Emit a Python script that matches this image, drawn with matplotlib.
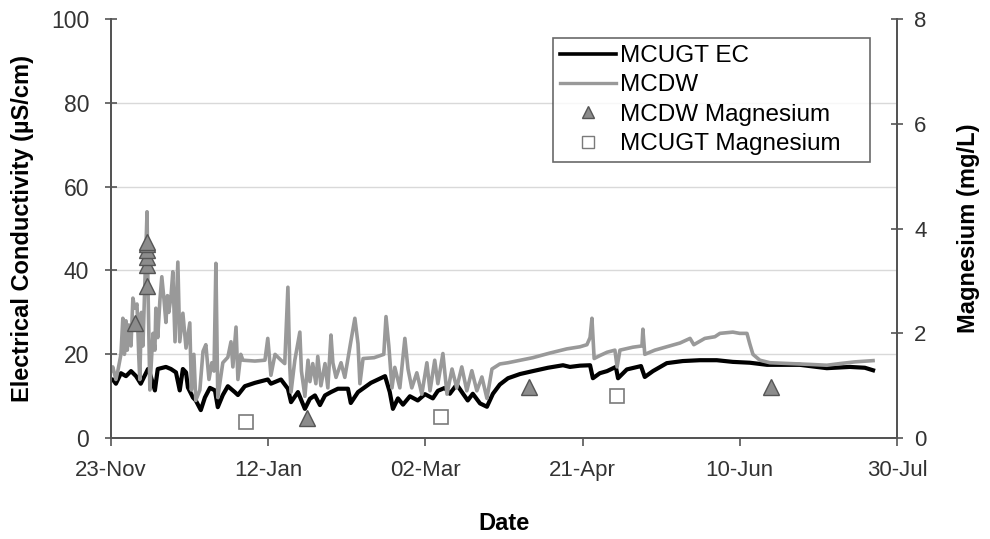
import matplotlib
matplotlib.use('Agg')
import matplotlib.pyplot as plt
from matplotlib.lines import Line2D
import pandas as pd

plt.rcParams['font.family'] = ['Liberation Sans', 'DejaVu Sans']

# Dias desde el 23-Nov (2007) y valores
start = pd.Timestamp('2007-11-23')

ugt_days = [0, 0.6, 1.6, 3.2, 4.8, 6.4, 8, 9.5, 11.8, 12.4, 14, 14.9, 17.5, 19.1, 20.7, 21.9,
            22.9, 23.9, 24.5, 26.1, 27, 28.6, 29.9, 31.5, 33.1, 34, 35.6, 37.2, 39.4, 40.4, 42.6,
            45.8, 49.9, 50.9, 54.1, 56.3, 57.3, 59.5, 61.7, 63.3, 64.9, 66.5, 68.1, 70, 72.2,
            75.4, 76.3, 78.6, 82.7, 87.2, 88.7, 89.7,
            91.3, 92.9, 95.1, 97.6, 99.9, 102.4, 104, 106.2, 107.8, 110, 112, 113.5, 115.1, 117.4,
            119.6, 121.5, 123.7, 126.3, 130.1, 134.2, 139, 143.8, 146, 149.2, 152.4, 153.3, 155.5,
            157.8, 160.6, 161.3, 164.1, 168.6, 169.8, 172.4, 176.8, 181.9, 187.3, 192.7, 197.8,
            203.2, 208.7, 219.1, 227.7, 235, 239.8, 242.4]
ugt_ec = [14, 14, 13, 15.5, 14.8, 16, 14.8, 13, 16.5, 15.5, 11.4, 16.5, 17, 16.5, 15.7, 11.4,
          16.5, 15.7, 12.1, 9.7, 9, 6.7, 9.7, 12, 11.4, 7.4, 10.3, 12.4, 11, 10.3, 12.4,
          13.2, 14, 13, 14, 11.8, 8.6, 11, 7, 9.4, 10.2, 7.9, 10.2, 11, 11.8,
          11.8, 8.4, 11, 13.2, 14.8, 11, 7,
          9.5, 8, 10, 9, 10.5, 9.5, 11.3, 12, 10.6, 12.8, 10.6, 9, 10.6, 8.3,
          7.5, 10.6, 12.8, 14.3, 15.3, 16, 16.8, 17.4, 17, 17.3, 17.4, 14.3, 15.5,
          16, 17, 14.3, 16.4, 17.2, 14.6, 16, 17.9, 18.4, 18.6, 18.6, 18.2,
          18, 17.5, 17.5, 16.7, 17, 16.8, 16.2]

dw_days = [0, 0.6, 1.6, 2.2, 3.2, 3.8, 4.3, 4.8, 5.2, 5.7, 6.4, 7, 7.6, 8.3, 8.9, 9.2, 9.7,
           10.2, 10.8, 11.5, 11.8, 12.4, 13, 13.4, 14, 14.3, 14.9, 15.6, 16.2, 16.9, 17.5, 18,
           18.4, 19.1, 19.7, 20.4, 21.3, 21.9, 22.9, 23.9, 25.1, 25.6, 26.4, 27, 28.3, 29.3,
           30.2, 31.2, 32.1, 32.8, 33.4, 34, 35.6, 37.2, 38.2, 38.8, 39.8, 40.4, 41.3, 42, 45.8,
           49, 49.9, 50.9, 52.2, 54.1, 55.3, 56.3, 56.9, 57.3, 58.5, 60.1, 60.6, 61.7, 62.7,
           63.3, 64.2, 65.2, 65.8, 66.8, 68.1, 69, 70, 70.6, 71.6, 73.2, 74.4, 76.3, 77.6, 78.6,
           79.2, 80.2, 83.7, 86.8, 87.5, 88.4, 89.4, 90.3, 91.9, 93.5, 94.5, 95.7, 97.3, 98.9,
           100.5, 101.5, 103, 104, 105.6, 106.9, 108.5, 110, 111.6, 113.2, 114.8, 116.4, 118,
           119.6, 121.2, 123.7, 126.3, 134.2, 139.6, 145, 149.2, 151.4, 152.4, 153, 153.7, 155.5,
           157.8, 160.3, 161, 161.9, 166, 168.9, 169.2, 169.8, 173, 176.8, 181, 184.2, 185.4,
           188.9, 192.1, 193.7, 197.8, 200, 202.3, 203.2, 204.2, 206.4, 209.6, 216, 222.3,
           227.7, 231.9, 236.6, 242.4]
dw_ec = [16, 17, 14, 16, 20, 28.6, 20, 28, 21, 27, 22, 33.4, 31, 32, 19, 14, 30,
         22, 37, 54, 36, 11.5, 20, 25, 21, 31, 24, 33, 38.5, 33, 27.6, 34,
         30, 33.6, 39.7, 23, 42, 23, 29.8, 21.5, 27.5, 11.5, 20, 9, 11.5, 20.7,
         22.3, 14, 18, 16, 41.7, 9.7, 18, 19.3, 23, 17, 26.5, 14, 20, 18.6, 18.4,
         18.6, 23.8, 15, 20, 18.6, 17.8, 36, 17, 11, 18.6, 25.3, 16, 10, 18.6,
         13.5, 17.8, 13, 19.5, 12.5, 17.8, 12, 24.6, 18, 14.5, 18, 14.5, 23, 28.6, 22.5,
         13, 19, 19.2, 20, 29, 22, 12, 16.9, 12, 23.8, 16.5, 12, 15.6, 10.5,
         18, 11.3, 18.6, 13, 20.2, 10.5, 16.5, 12, 17, 11.3, 16.1, 11.3, 14.6,
         9.5, 16.5, 17.7, 18, 19.2, 20.3, 21.3, 21.8, 22.3, 24, 28.6, 19, 19.7,
         20.5, 21, 17, 21, 21.7, 22, 26, 20, 21, 21.8, 22.7, 23.8, 22.3,
         23.8, 24.2, 25, 25.3, 25, 25, 22.5, 20, 18.6, 18, 17.8, 17.6,
         17.4, 17.8, 18.2, 18.5]

# Magnesio (mg/L), eje derecho
dw_mg_days = [7.6, 11.5, 11.5, 11.5, 11.5, 11.5, 11.5, 62.3, 133, 210]
dw_mg = [2.2, 2.9, 3.3, 3.45, 3.6, 3.7, 3.75, 0.38, 0.97, 0.97]
ugt_mg_days = [43, 105, 161]
ugt_mg = [0.3, 0.4, 0.8]

tick_labels = ['23-Nov', '12-Jan', '02-Mar', '21-Apr', '10-Jun', '30-Jul']


def to_dates(days):
    return start + pd.to_timedelta(days, unit='D')


fig = plt.figure(figsize=(9.9, 5.39), dpi=100)
ax1 = fig.add_axes([0.112, 0.187, 0.794, 0.778])
ax2 = ax1.twinx()

ax1.plot(to_dates(ugt_days), ugt_ec, color='black', lw=3.0, label='MCUGT EC', zorder=2)
ax1.plot(to_dates(dw_days), dw_ec, color='#999999', lw=2.6, label='MCDW', zorder=3)

ax2.plot(to_dates(dw_mg_days), dw_mg, linestyle='none', marker='^', markersize=11,
         markerfacecolor='#8c8c8c', markeredgecolor='#555555', markeredgewidth=1.0,
         label='MCDW Magnesium')
ax2.plot(to_dates(ugt_mg_days), ugt_mg, linestyle='none', marker='s', markersize=10,
         markerfacecolor='white', markeredgecolor='#7a7a7a', markeredgewidth=1.2,
         label='MCUGT Magnesium')

tick_pos = pd.date_range(start, periods=len(tick_labels), freq='50D')
ax1.set_xlim(tick_pos[0], tick_pos[-1])
ax1.set_xticks(tick_pos)
ax1.set_xticklabels(tick_labels)

ax1.set_ylim(0, 100)
ax1.set_yticks([0, 20, 40, 60, 80, 100])
ax2.set_ylim(0, 8)
ax2.set_yticks([0, 2, 4, 6, 8])

ax1.yaxis.grid(True, color='#d9d9d9', lw=1.0)
ax1.get_ygridlines()[-1].set_visible(False)
ax1.set_axisbelow(True)

for ax in (ax1, ax2):
    ax.spines['top'].set_visible(False)
    for s in ('left', 'right', 'bottom'):
        ax.spines[s].set_color('#555555')
        ax.spines[s].set_linewidth(1.4)

ax1.tick_params(axis='y', direction='inout', length=9, width=1.2, color='#555555',
                labelsize=16.5, labelcolor='#333333', pad=11)
ax1.tick_params(axis='x', direction='out', length=6, width=1.2, color='#555555',
                labelsize=16, labelcolor='#333333', pad=10)
ax2.tick_params(axis='y', direction='inout', length=9, width=1.2, color='#555555',
                labelsize=16, labelcolor='#333333', pad=8)

ax1.set_xlabel('Date', fontsize=17, fontweight='bold', labelpad=22)
ax1.set_ylabel('Electrical Conductivity (µS/cm)', fontsize=17, fontweight='bold', labelpad=12)
ax2.set_ylabel('Magnesium (mg/L)', fontsize=17, fontweight='bold', labelpad=22)

handles = [Line2D([], [], color='black', lw=2.6),
           Line2D([], [], color='#999999', lw=2.4),
           Line2D([], [], linestyle='none', marker='^', markersize=8,
                  markerfacecolor='#8c8c8c', markeredgecolor='#555555'),
           Line2D([], [], linestyle='none', marker='s', markersize=8,
                  markerfacecolor='white', markeredgecolor='#7a7a7a')]
labels = ['MCUGT EC', 'MCDW', 'MCDW Magnesium', 'MCUGT Magnesium']
leg = ax2.legend(handles, labels, loc='upper left', mode='expand',
                 bbox_to_anchor=(0.5623, 0.6, 0.4033, 0.3547),
                 fontsize=17.5, frameon=True, fancybox=False, edgecolor='#444444',
                 handlelength=2.3, handletextpad=0.15, labelspacing=0.3,
                 borderpad=0.3, borderaxespad=0)
leg.get_frame().set_linewidth(1.2)

fig.savefig('out.png', dpi=100)
